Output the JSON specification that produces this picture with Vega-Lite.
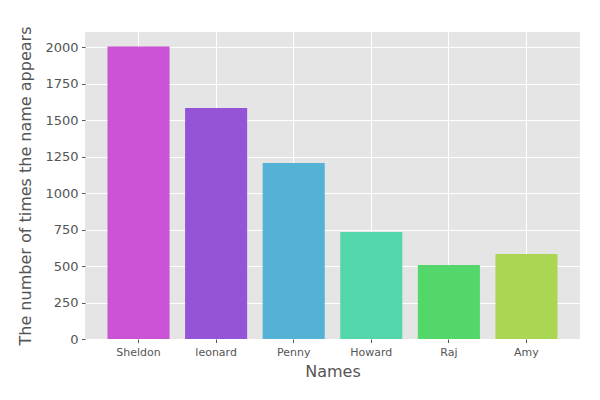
{
  "$schema": "https://vega.github.io/schema/vega-lite/v6.json",
  "autosize": "none",
  "width": 495,
  "height": 307,
  "padding": {"left": 85, "top": 32, "right": 20, "bottom": 61},
  "background": "white",
  "config": {
    "font": "DejaVu Sans",
    "view": {"fill": "#E5E5E5", "stroke": null},
    "axis": {
      "domain": false,
      "grid": true,
      "gridColor": "white",
      "gridWidth": 1,
      "tickColor": "#555555",
      "tickSize": 3.5,
      "tickWidth": 1,
      "labelColor": "#555555",
      "titleColor": "#555555",
      "titleFontWeight": "normal",
      "titleFontSize": 16,
      "labelPadding": 3.5
    }
  },
  "data": {
    "values": [
      {"name": "Sheldon", "count": 2003, "color": "#CA53D6"},
      {"name": "leonard", "count": 1582, "color": "#9553D6"},
      {"name": "Penny", "count": 1205, "color": "#53B2D6"},
      {"name": "Howard", "count": 733, "color": "#53D6AB"},
      {"name": "Raj", "count": 507, "color": "#53D66A"},
      {"name": "Amy", "count": 582, "color": "#ABD653"}
    ]
  },
  "mark": {"type": "bar"},
  "encoding": {
    "x": {
      "field": "name",
      "type": "nominal",
      "sort": null,
      "title": "Names",
      "scale": {"paddingInner": 0.2, "paddingOuter": 0.29},
      "axis": {"labelAngle": 0, "labelFontSize": 11, "bandPosition": 0.5, "titlePadding": 6}
    },
    "y": {
      "field": "count",
      "type": "quantitative",
      "title": "The number of times the name appears",
      "scale": {"domain": [0, 2103], "nice": false},
      "axis": {"values": [0, 250, 500, 750, 1000, 1250, 1500, 1750, 2000], "format": "d", "labelFontSize": 13, "titlePadding": 11}
    },
    "color": {"field": "color", "type": "nominal", "scale": null, "legend": null}
  }
}
